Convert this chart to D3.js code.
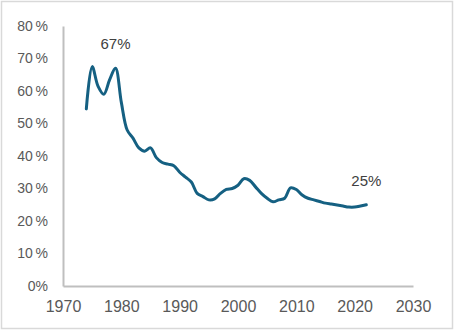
<!DOCTYPE html>
<html><head><meta charset="utf-8">
<script src="https://cdn.jsdelivr.net/npm/d3@7"></script>
<style>
html,body{margin:0;padding:0;background:#fff;}
svg{display:block;font-family:"Liberation Sans",Arial,sans-serif;}
</style></head>
<body>
<svg id="chart" width="456" height="331"></svg>
<script>
const years = [1974,1975,1976,1977,1978,1979,1980,1981,1982,1983,1984,1985,1986,1987,1988,1989,1990,1991,1992,1993,1994,1995,1996,1997,1998,1999,2000,2001,2002,2003,2004,2005,2006,2007,2008,2009,2010,2011,2012,2013,2014,2015,2016,2017,2018,2019,2020,2021,2022];
const values = [0.545,0.675,0.615,0.59,0.635,0.67,0.565,0.48,0.455,0.425,0.415,0.425,0.395,0.38,0.375,0.37,0.35,0.335,0.32,0.285,0.275,0.265,0.268,0.285,0.297,0.30,0.31,0.33,0.325,0.305,0.285,0.27,0.259,0.265,0.27,0.302,0.297,0.28,0.27,0.265,0.26,0.255,0.252,0.249,0.246,0.243,0.243,0.246,0.25];
const xTicks = [1970,1980,1990,2000,2010,2020,2030];
const yTicks = [0,0.1,0.2,0.3,0.4,0.5,0.6,0.7,0.8];
const annotations = [{year:1979, value:0.67, label:"67%"},{year:2022, value:0.25, label:"25%"}];

const svg = d3.select("#chart");
svg.append("rect").attr("x",1.5).attr("y",1.5).attr("width",451).attr("height",327)
  .attr("fill","#fff").attr("stroke","#d9d9d9").attr("stroke-width",1.5);

const x = d3.scaleLinear().domain([1970,2030]).range([63,413]);
const y = d3.scaleLinear().domain([0,0.8]).range([286,26]);

const yAxis = svg.append("g").attr("transform","translate(63,0)")
  .call(d3.axisLeft(y).tickValues(yTicks).tickSize(0).tickPadding(15)
    .tickFormat(d => Math.round(d*100) + (d===0 ? "%" : "\u2009%")));
yAxis.select(".domain").attr("stroke","#bfbfbf").attr("stroke-width",2);
yAxis.selectAll("text").attr("fill","#595959").style("font-size","14px").attr("font-family","Liberation Sans, Arial, sans-serif");

const xAxis = svg.append("g").attr("transform","translate(0,286)")
  .call(d3.axisBottom(x).tickValues(xTicks).tickSize(0).tickPadding(15).tickFormat(d3.format("d")));
xAxis.select(".domain").attr("stroke","#bfbfbf").attr("stroke-width",2);
xAxis.selectAll("text").attr("fill","#595959").style("font-size","16px").attr("font-family","Liberation Sans, Arial, sans-serif");

const data = years.map((yr,i)=>({year:yr,value:values[i]}));
const line = d3.line().x(d=>x(d.year)).y(d=>y(d.value)).curve(d3.curveCatmullRom.alpha(0.5));
svg.append("path").datum(data).attr("d",line).attr("fill","none")
  .attr("stroke","#156082").attr("stroke-width",3).attr("stroke-linejoin","round").attr("stroke-linecap","round");

svg.selectAll(".ann").data(annotations).join("text").attr("class","ann")
  .attr("x",d=>x(d.year)).attr("y",d=>y(d.value)-19)
  .attr("text-anchor","middle").attr("fill","#404040").style("font-size","15px")
  .text(d=>d.label);
</script>
</body></html>
